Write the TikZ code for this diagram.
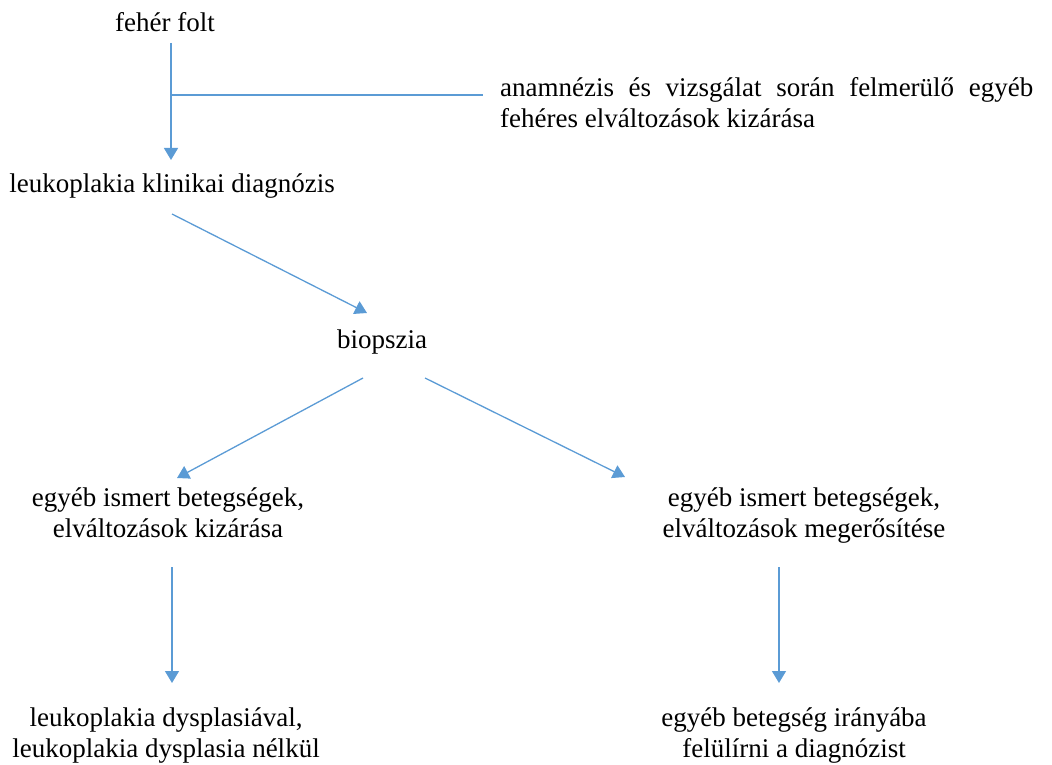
\documentclass[tikz,border=0pt]{standalone}
\usepackage{fontspec}
\setmainfont{Liberation Serif}
\usetikzlibrary{arrows.meta}
\definecolor{arrblue}{HTML}{5B9BD5}
\begin{document}
\begin{tikzpicture}[x=1pt,y=-1pt,
  txt/.style={inner sep=0pt, anchor=base, font=\fontsize{27}{31}\selectfont},
  conn/.style={draw=arrblue, line width=1.3pt},
  arr/.style={conn, -{Triangle[length=12pt,width=14pt]}, arrblue}]
\useasboundingbox (0,0) rectangle (1052,765);
% texts
\node[txt] (ff) at (165,32) {fehér folt};
\node[txt, anchor=base west] (an) at (500,97) {\parbox[t]{533pt}{\fontsize{27}{31}\selectfont anamnézis és vizsgálat során felmerülő egyéb\linebreak fehéres elváltozások kizárása}};
\node[txt] (lk) at (172,193) {leukoplakia klinikai diagnózis};
\node[txt] (bio) at (382,348) {biopszia};
\node[txt] (ex) at (168,506) {\begin{tabular}[t]{@{}c@{}}egyéb ismert betegségek,\\elváltozások kizárása\end{tabular}};
\node[txt] (co) at (804,506) {\begin{tabular}[t]{@{}c@{}}egyéb ismert betegségek,\\elváltozások megerősítése\end{tabular}};
\node[txt] (ld) at (166,726) {\begin{tabular}[t]{@{}c@{}}leukoplakia dysplasiával,\\leukoplakia dysplasia nélkül\end{tabular}};
\node[txt] (eb) at (794,726) {\begin{tabular}[t]{@{}c@{}}egyéb betegség irányába\\felülírni a diagnózist\end{tabular}};
% connector end points
\coordinate (ffs) at (171,43);
\coordinate (lkn) at (171,160);
\coordinate (jn) at (171,95);
\coordinate (ane) at (483,95);
\coordinate (lks) at (172,214);
\coordinate (bion) at (367,313);
\coordinate (biol) at (363,378);
\coordinate (exn) at (177,478);
\coordinate (bior) at (425,378);
\coordinate (con) at (625,477);
\coordinate (exs) at (172,567);
\coordinate (ldn) at (172,683);
\coordinate (cos) at (779,567);
\coordinate (ebn) at (779,683);
% connectors
\draw[arr] (ffs) -- (lkn);
\draw[conn] (jn) -- (ane);
\draw[arr] (lks) -- (bion);
\draw[arr] (biol) -- (exn);
\draw[arr] (bior) -- (con);
\draw[arr] (exs) -- (ldn);
\draw[arr] (cos) -- (ebn);
\end{tikzpicture}
\end{document}
